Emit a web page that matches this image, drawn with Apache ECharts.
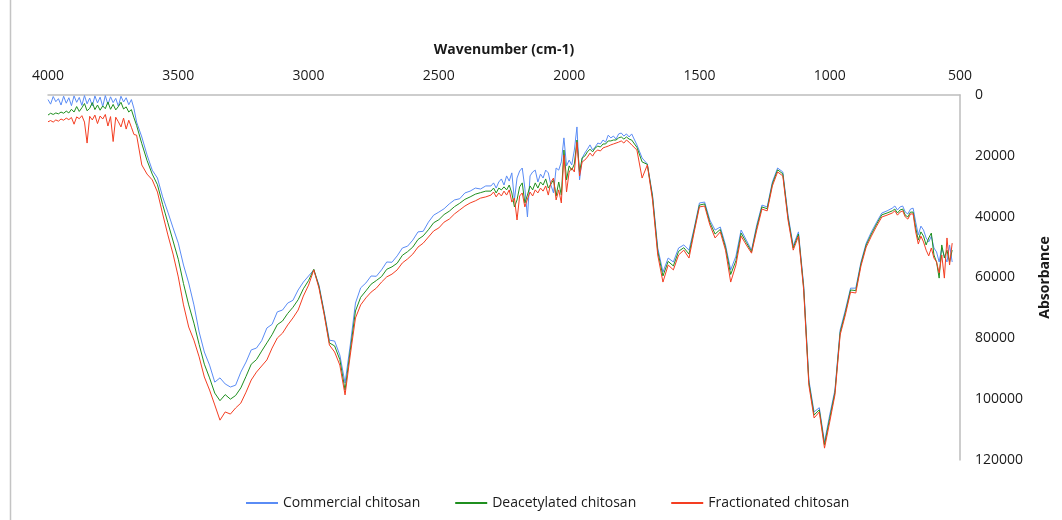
<!DOCTYPE html>
<html>
<head>
<meta charset="utf-8">
<title>FTIR spectra of chitosan samples</title>
<script src="https://cdn.jsdelivr.net/npm/echarts@6/dist/echarts.min.js"></script>
<style>
  html, body { margin: 0; padding: 0; background: #ffffff; }
  #chart { width: 1062px; height: 520px; }
</style>
</head>
<body>
<div id="chart"></div>
<script>
// Wavenumbers (cm-1): 10 cm-1 steps in the noisy bands, 20 cm-1 elsewhere
const wavenumbers = [
  // 4000 - 3660
  4000,3990,3980,3970,3960,3950,3940,3930,3920,3910,3900,3890,3880,3870,3860,3850,3840,3830,3820,3810,
  3800,3790,3780,3770,3760,3750,3740,3730,3720,3710,3700,3690,3680,3670,3660,
  // 3640 - 2320
  3640,3620,3600,3580,3560,3540,3520,3500,3480,3460,3440,3420,3400,3380,3360,3340,3320,3300,3280,3260,
  3240,3220,3200,3180,3160,3140,3120,3100,3080,3060,3040,3020,3000,2980,2960,2940,2920,2900,2880,2860,
  2840,2820,2800,2780,2760,2740,2720,2700,2680,2660,2640,2620,2600,2580,2560,2540,2520,2500,2480,2460,
  2440,2420,2400,2380,2360,2340,2320,
  // 2300 - 1760
  2300,2290,2280,2270,2260,2250,2240,2230,2220,2210,2200,2190,2180,2170,2160,2150,2140,2130,2120,2110,
  2100,2090,2080,2070,2060,2050,2040,2030,2020,2010,2000,1990,1980,1970,1960,1950,1940,1930,1920,1910,
  1900,1890,1880,1870,1860,1850,1840,1830,1820,1810,1800,1790,1780,1770,1760,
  // 1740 - 780
  1740,1720,1700,1680,1660,1640,1620,1600,1580,1560,1540,1520,1500,1480,1460,1440,1420,1400,1380,1360,
  1340,1320,1300,1280,1260,1240,1220,1200,1180,1160,1140,1120,1100,1080,1060,1040,1020,1000,980,960,
  940,920,900,880,860,840,820,800,780,
  // 760 - 530
  760,750,740,730,720,710,700,690,680,670,660,650,640,630,620,610,600,590,580,570,560,550,540,530
];

const commercial = [
  1500,3000,500,2200,1200,3300,400,2700,900,3500,300,2400,800,3400,200,2900,1000,3600,300,2600,
  700,3800,200,3100,600,2500,1100,3700,400,2300,900,3200,1500,4500,8900,
  13800,19700,24700,27300,33500,38500,43700,48700,55900,61800,69000,77900,84500,88800,94400,93000,95000,96000,95400,91100,
  87800,83800,83200,80800,76600,75400,71300,70700,68400,67500,64100,61500,59500,57500,62500,71300,80600,80900,85500,94700,
  82200,68400,63400,61800,59500,59600,57500,54900,55000,52900,50300,49700,47700,45000,44800,41800,39500,38500,37400,35800,
  34500,34100,32200,31600,30600,30900,29900,
  29900,28900,30600,28600,27600,29600,26600,28300,25600,34500,27300,25000,24000,30600,40100,26600,25300,24700,28600,26000,
  27300,24700,25600,29600,32200,24000,24700,22000,14100,23300,21400,23000,18100,10500,27900,20700,19100,17800,16400,18100,
  17100,15800,16100,14800,15500,13200,14100,13500,14500,12800,12500,13500,12800,13800,12800,
  16400,20700,22700,32900,50300,58200,53600,54900,50300,49300,51000,43700,35500,35200,41100,44400,43400,49300,57500,53000,
  44400,47700,51000,42700,36200,36800,28600,24000,25300,39500,49600,45000,62500,93700,104200,102800,114100,105200,97000,77300,
  70700,63500,63500,54900,48700,45000,41800,38800,38100,
  37200,36500,37800,36800,36500,38500,39100,37500,37200,41800,46000,43100,44400,47000,48300,46400,50300,51600,54900,50300,
  52900,54900,49300,54900
];

const deacetylated = [
  6600,6000,6400,5900,6200,5600,6000,5300,5900,4700,5600,3800,5400,4200,2800,5200,4400,2500,4800,3300,
  5000,3600,4500,2300,4700,3100,4900,3800,2400,4600,3900,5600,4800,7500,10000,
  16000,21500,26000,29500,36000,42000,48000,54000,62000,69000,75000,82000,88500,93000,98000,100500,98500,100000,98800,96300,
  92500,88500,87000,84200,81500,78800,75500,74300,71800,69800,67300,63700,61000,57300,63000,71800,81500,82500,87000,97000,
  84000,71000,66500,64400,62200,61000,59700,57300,56500,55300,52700,51500,50000,47500,46300,44300,42000,41000,39300,38200,
  36700,35600,34300,33500,32600,32100,31600,
  31600,30600,32200,30600,31200,30200,31200,29600,32200,36800,34500,30200,28900,35500,32900,29900,31200,28900,30600,28600,
  29600,27600,30600,29300,27900,33200,28600,32900,18100,27900,23300,24700,22700,14800,25300,20700,20100,18700,17800,18700,
  17400,16800,17100,16100,16100,15100,15100,14800,14800,14100,13800,14500,13800,14500,14800,
  17200,22000,22800,33500,51400,59500,54700,56200,51400,50200,52300,44300,36200,35800,41900,45700,44200,50100,59000,54500,
  45400,48500,51500,43500,36800,37400,29200,24600,25900,40300,50300,45700,63300,94500,105200,103500,115000,106300,97800,78100,
  71500,64100,64300,55500,49300,45700,42400,39400,38800,
  38100,37500,38800,37800,37500,39500,40100,38500,38500,43700,47700,45000,46400,49300,47000,45400,52600,54900,60200,49300,
  53600,51000,54900,51000
];

const fractionated = [
  8800,8400,8900,8200,8600,7900,8300,7600,8100,7400,9600,7200,7800,6800,8900,15800,7000,8200,6600,9400,
  6900,7900,6400,10200,7100,15300,7300,8800,10500,7600,11200,8300,10600,13000,13200,
  23000,26000,27900,31900,39100,46000,52300,59800,69000,76300,80600,86100,92700,97000,101900,106900,104200,104900,102900,101300,
  97700,93700,91100,89100,87100,83200,79900,78300,75600,73300,70700,66100,62500,57500,63500,72300,82200,84500,88800,98600,
  85500,73300,69000,66700,64800,63500,61500,59800,58900,57500,55200,53900,52300,50000,48700,46700,44700,43700,41800,40800,
  39100,37800,36500,35500,34800,33900,33500,
  32900,31900,33500,32200,33200,31600,32900,31200,35200,33900,41100,33200,32200,36800,34200,31900,33200,31200,32200,30600,
  31600,29900,32900,28600,27300,34500,31200,35500,19700,31900,25300,24000,25300,15500,26600,22000,21400,20400,19100,20100,
  18700,18100,18400,17400,17100,16800,16400,16100,15800,15500,15100,15800,14800,15500,16400,
  18100,27300,23000,34500,52600,61500,55900,57500,52600,51000,53600,45000,36800,36500,42700,47000,45000,51000,61500,55900,
  46400,49300,52000,44400,37500,38100,29900,25300,26600,41100,51000,46400,64100,95400,106200,104200,116100,107500,98600,78900,
  72300,64800,65100,56200,50000,46400,43100,40100,39500,
  38800,38100,39500,38500,38100,40100,40800,39100,39100,45000,49000,46400,48300,51000,52900,50300,53600,54900,58500,52600,
  60200,47000,55900,48700
];

const seriesNames = ['Commercial chitosan', 'Deacetylated chitosan', 'Fractionated chitosan'];
const seriesColors = ['#5a8cf5', '#1f8f1f', '#f43e22'];

function pairs(values) {
  return wavenumbers.map(function (w, i) { return [w, values[i]]; });
}

const fontFamily = '"Open Sans", "Noto Sans", sans-serif';
const axisGray = '#bdbdbd';
const textColor = '#1a1a1a';
const plainNumber = function (v) { return String(v); };

const chart = echarts.init(document.getElementById('chart'), null, { renderer: 'canvas' });

chart.setOption({
  animation: false,
  backgroundColor: '#ffffff',
  textStyle: { fontFamily: fontFamily, color: textColor },
  graphic: [
    {
      type: 'line',
      shape: { x1: 10.5, y1: 0, x2: 10.5, y2: 520 },
      style: { stroke: '#c4c4c4', lineWidth: 1.5 },
      silent: true
    }
  ],
  grid: { left: 48, right: 102, top: 95, bottom: 60, containLabel: false },
  legend: {
    left: 241,
    top: 491,
    itemWidth: 32,
    itemHeight: 2,
    itemGap: 35,
    icon: 'rect',
    textStyle: { fontFamily: fontFamily, fontSize: 14, color: textColor },
    data: seriesNames
  },
  xAxis: {
    type: 'value',
    position: 'top',
    inverse: true,
    min: 500,
    max: 4000,
    interval: 500,
    name: 'Wavenumber (cm-1)',
    nameLocation: 'middle',
    nameGap: 38,
    nameTextStyle: { fontFamily: fontFamily, fontSize: 14, fontWeight: 'bold', color: textColor },
    axisLine: { show: true, lineStyle: { color: axisGray, width: 1.5 } },
    axisTick: { show: false },
    splitLine: { show: false },
    axisLabel: { fontFamily: fontFamily, fontSize: 14, color: textColor, margin: 12, formatter: plainNumber }
  },
  yAxis: {
    type: 'value',
    position: 'right',
    inverse: true,
    min: 0,
    max: 120000,
    interval: 20000,
    name: 'Absorbance',
    nameLocation: 'middle',
    nameRotate: 90,
    nameGap: 78,
    nameTextStyle: { fontFamily: fontFamily, fontSize: 14, fontWeight: 'bold', color: textColor },
    axisLine: { show: true, lineStyle: { color: axisGray, width: 1.5 } },
    axisTick: { show: false },
    splitLine: { show: false },
    axisLabel: { fontFamily: fontFamily, fontSize: 14, color: textColor, margin: 15, formatter: plainNumber }
  },
  series: [
    {
      name: seriesNames[0], type: 'line', data: pairs(commercial),
      symbol: 'none', color: seriesColors[0], lineStyle: { width: 1, color: seriesColors[0] }, z: 2
    },
    {
      name: seriesNames[1], type: 'line', data: pairs(deacetylated),
      symbol: 'none', color: seriesColors[1], lineStyle: { width: 1, color: seriesColors[1] }, z: 3
    },
    {
      name: seriesNames[2], type: 'line', data: pairs(fractionated),
      symbol: 'none', color: seriesColors[2], lineStyle: { width: 1, color: seriesColors[2] }, z: 4
    }
  ]
});
</script>
</body>
</html>
